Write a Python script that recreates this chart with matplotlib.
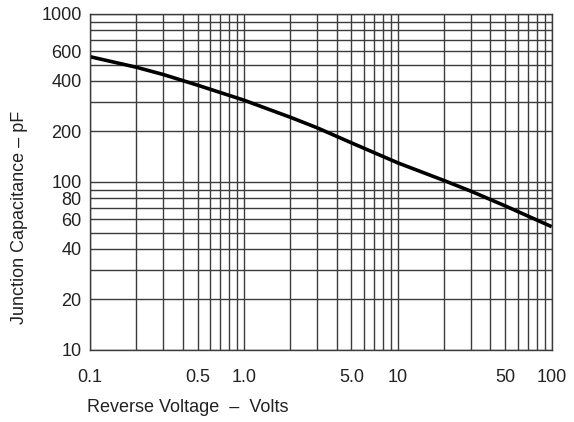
import matplotlib
matplotlib.use("Agg")
import matplotlib.pyplot as plt
from matplotlib.ticker import FixedLocator, FixedFormatter, LogLocator, NullFormatter

# Data
voltage = [0.1, 0.2, 0.3, 0.5, 1.0, 2.0, 3.0, 5.0, 10, 20, 30, 50, 100]
capacitance = [557, 482, 436, 377, 307, 243, 210, 171, 130, 102, 88, 72, 54.2]

x_ticks = [0.1, 0.5, 1.0, 5.0, 10, 50, 100]
x_labels = ["0.1", "0.5", "1.0", "5.0", "10", "50", "100"]
y_ticks = [10, 20, 40, 60, 80, 100, 200, 400, 600, 1000]
y_labels = ["10", "20", "40", "60", "80", "100", "200", "400", "600", "1000"]

plt.rcParams['font.family'] = ['Liberation Sans', 'DejaVu Sans']

fig = plt.figure(figsize=(5.74, 4.22), dpi=100)
ax = fig.add_axes([90/574, 72/422, (551.7-90)/574, (350-14)/422])

ax.set_xscale('log')
ax.set_yscale('log')
ax.set_xlim(0.1, 100)
ax.set_ylim(10, 1000)

ax.xaxis.set_major_locator(FixedLocator(x_ticks))
ax.xaxis.set_major_formatter(FixedFormatter(x_labels))
ax.xaxis.set_minor_locator(LogLocator(base=10, subs=range(1, 10)))
ax.xaxis.set_minor_formatter(NullFormatter())
ax.yaxis.set_major_locator(FixedLocator(y_ticks))
ax.yaxis.set_major_formatter(FixedFormatter(y_labels))
ax.yaxis.set_minor_locator(LogLocator(base=10, subs=range(1, 10)))
ax.yaxis.set_minor_formatter(NullFormatter())

ax.grid(which='minor', color='#3c3c3c', linewidth=1.0)
ax.grid(which='major', color='#3c3c3c', linewidth=1.0)
ax.set_axisbelow(True)

ax.tick_params(which='both', length=0)
ax.tick_params(axis='x', pad=14, labelsize=13, colors='#222222')
ax.tick_params(axis='y', pad=6, labelsize=13, colors='#222222')
for s in ax.spines.values():
    s.set_color('#3c3c3c')
    s.set_linewidth(1.0)

ax.plot(voltage, capacitance, color='black', linewidth=2.6, solid_capstyle='butt',
        solid_joinstyle='round')

fig.text(188/574, 1 - 408/422, "Reverse Voltage  –  Volts", ha='center', va='center',
         fontsize=13, color='#222222')
fig.text(20/574, 1 - 217/422, "Junction Capacitance – pF", ha='center', va='center',
         rotation=90, fontsize=13, color='#222222')

fig.savefig("out.png", dpi=100, facecolor='white')
